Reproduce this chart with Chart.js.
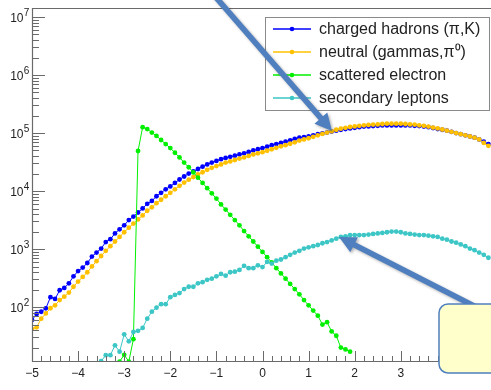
<!DOCTYPE html>
<html>
<head>
<meta charset="utf-8">
<script src="https://cdn.jsdelivr.net/npm/chart.js@4.4.1/dist/chart.umd.min.js"></script>
<style>
  html, body { margin: 0; padding: 0; background: #fff; overflow: hidden; }
  #wrap { position: relative; width: 491px; height: 390px; overflow: hidden; }
  canvas { position: absolute; left: 0; top: 0; }
</style>
</head>
<body>
<div id="wrap"><canvas id="etaChart" width="497" height="390"></canvas></div>
<script>
// 100 bins of 0.1 in eta, from -5 to 5
const etaBins = Array.from({ length: 100 }, (_, i) => Math.round((-5 + 0.1 * i) * 10) / 10);

const chargedHadrons = [
  60, 76, 83, 95, 148, 138, 195, 214, 257, 339,
  417, 479, 575, 741, 871, 1020, 1320, 1480, 1860, 2190,
  2570, 3160, 3630, 4270, 5010, 6030, 6760, 8130, 9330, 10700,
  12000, 13800, 15800, 17800, 20000, 21900, 24000, 26300, 28800, 30900,
  33100, 35500, 37200, 38900, 40700, 42700, 44700, 47300, 50100, 52500,
  55000, 58200, 61700, 64600, 67600, 70800, 75000, 79400, 83200, 85100,
  87100, 91200, 95500, 98900, 102000, 106000, 110000, 114000, 117000, 120000,
  123000, 126000, 129000, 130000, 132000, 133000, 135000, 135000, 135000, 135000,
  135000, 135000, 135000, 133000, 132000, 129000, 126000, 122000, 117000, 114000,
  110000, 105000, 100000, 95500, 91200, 87100, 83200, 77600, 70800, 64600
];

const neutrals = [
  41.7, 44.7, 63.1, 77.6, 95.5, 107, 132, 151, 178, 224,
  275, 331, 398, 501, 617, 759, 933, 1120, 1350, 1620,
  1950, 2340, 2750, 3240, 3800, 4570, 5250, 6170, 7080, 8130,
  9330, 10700, 12300, 14000, 15700, 17400, 19300, 21100, 23200, 25100,
  26900, 28800, 30900, 32400, 34300, 36300, 38000, 40300, 42700, 44700,
  46800, 49500, 52500, 55600, 58900, 61700, 65300, 69200, 74100, 77600,
  81300, 86100, 91200, 96600, 102000, 107000, 114000, 119000, 123000, 127000,
  130000, 133000, 136000, 138000, 140000, 141000, 143000, 145000, 145000, 145000,
  145000, 143000, 141000, 140000, 136000, 133000, 129000, 124000, 120000, 115000,
  110000, 105000, 100000, 95500, 91200, 87100, 83200, 77600, 67600, 60300
];

const scatteredElectron = [
  null, null, null, null, null, null, null, null, null, null,
  null, null, null, null, null, null, null, null, null, 11.5,
  15, 11.5, 28, 49000, 126000, 117000, 102000, 89100, 75900, 64600,
  55000, 45700, 38000, 30900, 25700, 20900, 17000, 13800, 11200, 9120,
  7410, 5890, 4790, 3890, 3160, 2570, 2040, 1660, 1350, 1100,
  891, 724, 589, 468, 380, 309, 251, 204, 166, 132,
  107, 87, 71, 50, 55, 38, 32, 20, 18.6, 17,
  null, null, null, null, null, null, null, null, null, null,
  null, null, null, null, null, null, null, null, null, null,
  null, null, null, null, null, null, null, null, null, null
];

const secondaryLeptons = [
  null, null, null, null, null, null, null, null, null, null,
  null, null, null, null, null, 11.7, 14.8, 14.8, 21.9, 17,
  33.9, 25.7, 37.2, 38.9, 43.7, 63.1, 83.2, 97.7, 112, 112,
  148, 162, 174, 204, 224, 224, 257, 269, 295, 309,
  339, 372, 347, 398, 407, 437, 513, 468, 468, 525,
  490, 603, 562, 631, 661, 724, 794, 871, 933, 1020,
  1070, 1120, 1175, 1260, 1320, 1410, 1510, 1620, 1660, 1740,
  1740, 1740, 1740, 1780, 1820, 1860, 1900, 1950, 2000, 2000,
  1950, 1860, 1820, 1780, 1740, 1740, 1700, 1660, 1620, 1510,
  1450, 1350, 1290, 1200, 1120, 1020, 955, 871, 794, 708
];

const seriesNames = ['charged hadrons (\u03c0,K)', 'neutral (gammas,\u03c0\u2070)', 'scattered electron', 'secondary leptons'];
const seriesColors = ['#0000ff', '#ffc000', '#00f000', '#3cc6c6'];
const xTickLabels = [-5, -4, -3, -2, -1, 0, 1, 2, 3];
const yDecades = [2, 3, 4, 5, 6, 7];

const FONT = '"Liberation Sans", Arial, Helvetica, sans-serif';

function toPoints(values) {
  return values.map((v, i) => ({ x: etaBins[i], y: v }));
}

function drawArrow(ctx, x0, y0, x1, y1) {
  const ang = Math.atan2(y1 - y0, x1 - x0);
  const len = Math.hypot(x1 - x0, y1 - y0);
  const shaft = 2.8, headLen = 17, headHalf = 8.5;
  ctx.save();
  ctx.translate(x0, y0);
  ctx.rotate(ang);
  ctx.beginPath();
  ctx.moveTo(0, -shaft);
  ctx.lineTo(len - headLen, -shaft);
  ctx.lineTo(len - headLen, -headHalf);
  ctx.lineTo(len, 0);
  ctx.lineTo(len - headLen, headHalf);
  ctx.lineTo(len - headLen, shaft);
  ctx.lineTo(0, shaft);
  ctx.closePath();
  ctx.fill();
  ctx.restore();
}

function roundBox(ctx, x, y, w, h, r) {
  ctx.beginPath();
  ctx.moveTo(x + r, y);
  ctx.arcTo(x + w, y, x + w, y + h, r);
  ctx.arcTo(x + w, y + h, x, y + h, r);
  ctx.arcTo(x, y + h, x, y, r);
  ctx.arcTo(x, y, x + w, y, r);
  ctx.closePath();
}

// ROOT-like frame, inward ticks, y labels, legend and the slide annotations
const rootDecor = {
  id: 'rootDecor',
  afterDraw(chart) {
    const { ctx, chartArea: a, scales: { x, y } } = chart;
    ctx.save();

    // frame
    ctx.strokeStyle = '#6a6a6a';
    ctx.lineWidth = 1.2;
    ctx.beginPath();
    ctx.moveTo(a.left + 0.5, a.bottom - 0.5);
    ctx.lineTo(a.left + 0.5, a.top + 0.5);
    ctx.lineTo(a.right - 0.5, a.top + 0.5);
    ctx.lineTo(a.right - 0.5, a.bottom - 0.5);
    ctx.closePath();
    ctx.stroke();

    // x ticks every 0.2, long ones on integers
    ctx.lineWidth = 1;
    ctx.beginPath();
    for (let i = -25; i <= 25; i++) {
      const px = Math.round(x.getPixelForValue(i / 5)) + 0.5;
      const len = i % 5 === 0 ? 11 : 6;
      ctx.moveTo(px, a.bottom);
      ctx.lineTo(px, a.bottom - len);
    }
    // y log ticks
    for (let n = 1; n <= 7; n++) {
      for (let m = 1; m <= 9; m++) {
        const v = m * Math.pow(10, n);
        if (v < y.min || v > y.max) continue;
        const py = Math.round(y.getPixelForValue(v)) + 0.5;
        const len = m === 1 ? 13 : 7;
        ctx.moveTo(a.left, py);
        ctx.lineTo(a.left + len, py);
      }
    }
    ctx.stroke();

    // y labels 10^n
    ctx.fillStyle = '#222';
    yDecades.forEach(n => {
      const py = y.getPixelForValue(Math.pow(10, n));
      ctx.font = '12px ' + FONT;
      ctx.textAlign = 'right';
      ctx.textBaseline = 'alphabetic';
      ctx.fillText('10', 23.5, py + 5);
      ctx.font = '10px ' + FONT;
      ctx.textAlign = 'left';
      ctx.fillText(String(n), 23.8, py - 1);
    });

    // legend
    const lx = 265.5, ly = 17.5, lw = 224, lh = 93;
    ctx.fillStyle = '#fff';
    ctx.fillRect(lx, ly, lw, lh);
    ctx.strokeStyle = '#8a8a8a';
    ctx.lineWidth = 1;
    ctx.strokeRect(lx, ly, lw, lh);
    chart.data.datasets.forEach((ds, i) => {
      const ry = 29 + i * 23;
      ctx.strokeStyle = ds.borderColor;
      ctx.lineWidth = 1.3;
      ctx.beginPath();
      ctx.moveTo(273, ry);
      ctx.lineTo(311, ry);
      ctx.stroke();
      ctx.fillStyle = ds.borderColor;
      ctx.beginPath();
      ctx.arc(292, ry, 2.3, 0, Math.PI * 2);
      ctx.fill();
      ctx.fillStyle = '#222';
      ctx.font = '16px ' + FONT;
      ctx.textAlign = 'left';
      ctx.textBaseline = 'middle';
      ctx.fillText(ds.label, 319, ry + 1);
    });

    // slide annotations: arrows and callout box
    ctx.shadowColor = 'rgba(0,0,0,0.3)';
    ctx.shadowBlur = 3;
    ctx.shadowOffsetX = 1.5;
    ctx.shadowOffsetY = 1.5;
    ctx.fillStyle = '#4f7fbf';
    drawArrow(ctx, 213, -6, 332, 131);
    drawArrow(ctx, 478, 308, 339, 237);
    ctx.shadowColor = 'transparent';
    roundBox(ctx, 439, 304, 80, 69, 9);
    ctx.fillStyle = '#ffffcc';
    ctx.fill();
    ctx.strokeStyle = '#4f7fbf';
    ctx.lineWidth = 1.5;
    ctx.stroke();

    ctx.restore();
  }
};

const allSeries = [chargedHadrons, neutrals, scatteredElectron, secondaryLeptons];

new Chart(document.getElementById('etaChart').getContext('2d'), {
  type: 'line',
  data: {
    datasets: allSeries.map((vals, i) => ({
      label: seriesNames[i],
      data: toPoints(vals),
      borderColor: seriesColors[i],
      backgroundColor: seriesColors[i],
      pointBackgroundColor: seriesColors[i],
      pointBorderWidth: 0,
      pointRadius: 2.4,
      borderWidth: 1,
      tension: 0,
      spanGaps: false,
      order: 4 - i
    }))
  },
  options: {
    responsive: false,
    animation: false,
    devicePixelRatio: 1,
    layout: { padding: { top: 8, left: 0, right: 0, bottom: 0 } },
    plugins: { legend: { display: false }, tooltip: { enabled: false } },
    scales: {
      x: {
        type: 'linear',
        min: -5,
        max: 5,
        grid: { display: false, drawTicks: false },
        border: { display: false },
        afterBuildTicks: s => { s.ticks = xTickLabels.map(v => ({ value: v })); },
        afterFit: s => { s.height = 28; },
        ticks: {
          autoSkip: false,
          maxRotation: 0,
          padding: 4,
          color: '#222',
          font: { family: FONT, size: 12 },
          callback: v => String(v).replace('-', '\u2212')
        }
      },
      y: {
        type: 'logarithmic',
        min: 11.3,
        max: 1.43e7,
        grid: { display: false, drawTicks: false },
        border: { display: false },
        ticks: { display: false },
        afterFit: s => { s.width = 32; }
      }
    }
  },
  plugins: [rootDecor]
});
</script>
</body>
</html>
